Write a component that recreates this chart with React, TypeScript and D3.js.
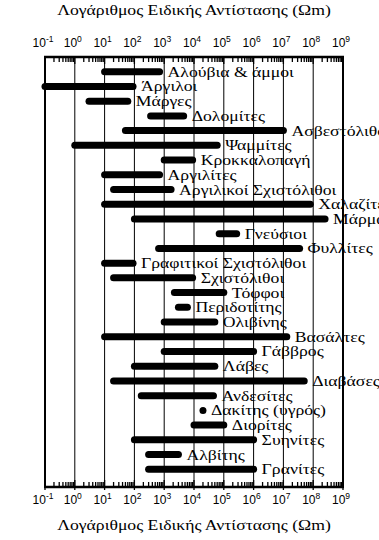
import React from "react";
import * as d3 from "d3";

const rocks = ["Αλούβια & άμμοι","Άργιλοι","Μάργες","Δολομίτες","Ασβεστόλιθοι","Ψαμμίτες","Κροκκαλοπαγή","Αργιλίτες","Αργιλικοί Σχιστόλιθοι","Χαλαζίτες","Μάρμαρα","Γνεύσιοι","Φυλλίτες","Γραφιτικοί Σχιστόλιθοι","Σχιστόλιθοι","Τόφφοι","Περιδοτίτης","Ολιβίνης","Βασάλτες","Γάββρος","Λάβες","Διαβάσες","Ανδεσίτες","Δακίτης (υγρός)","Διορίτες","Συηνίτες","Αλβίτης","Γρανίτες"];
const lowValues = [10, 0.1, 3, 350, 50, 1, 1000, 10, 20, 10, 100, 7e4, 650, 10, 20, 2200, 3000, 1000, 10, 1000, 100, 20, 170, 2e4, 1e4, 100, 300, 300];
const highValues = [700, 90, 60, 4500, 1e7, 6e4, 9e3, 700, 1700, 8e7, 2.5e8, 2.7e5, 3.5e7, 90, 9e3, 1e5, 6e3, 5e4, 1.3e7, 1e6, 5e4, 5e7, 4.5e4, 2e4, 1e5, 1e6, 3e3, 1e6];
const exponents = [-1, 0, 1, 2, 3, 4, 5, 6, 7, 8, 9];
const axisTitle = "Λογάριθμος Ειδικής Αντίστασης (Ωm)";

const W = 379, H = 540;
const L = 45, R = 343, T = 57, B = 487;
const SERIF = "'Liberation Serif', 'DejaVu Serif', serif";
const SANS = "'Liberation Sans', Arial, sans-serif";
const SX = 1.22;
const FS = 14.5;

export default function App() {
  const x = d3.scaleLog().domain([0.1, 1e9]).range([L, R]);
  const y = d3.scalePoint<string>().domain(rocks).range([71.7, 469.3]);

  const ticks: { v: number; major: boolean }[] = [];
  for (let e = -1; e <= 8; e++) {
    for (let k = 1; k <= 9; k++) ticks.push({ v: k * Math.pow(10, e), major: k === 1 });
  }
  ticks.push({ v: 1e9, major: true });

  const tickLabel = (e: number, ty: number) => (
    <text key={`${e}-${ty}`} x={x(Math.pow(10, e)) - 2} y={ty} fontFamily={SANS} fontSize={12} textAnchor="middle" fill="#000">
      10<tspan fontSize={8.5} dy={-5}>{e}</tspan>
    </text>
  );

  return (
    <svg width={W} height={H} style={{ position: "absolute", left: 0, top: 0, background: "#fff" }}>
      <rect x={0} y={0} width={W} height={H} fill="#fff" />
      {exponents.map((e) => (
        <line key={e} x1={x(Math.pow(10, e))} x2={x(Math.pow(10, e))} y1={T} y2={B} stroke="#000" strokeWidth={1} />
      ))}
      {ticks.map((t, i) => (
        <g key={i}>
          <line x1={x(t.v)} x2={x(t.v)} y1={T} y2={T + (t.major ? 7 : 5)} stroke="#000" strokeWidth={1.3} />
          <line x1={x(t.v)} x2={x(t.v)} y1={B - (t.major ? 7 : 5)} y2={B + (t.major ? 3 : 0)} stroke="#000" strokeWidth={1.3} />
        </g>
      ))}
      <line x1={L - 1} x2={R + 1} y1={T} y2={T} stroke="#000" strokeWidth={2.5} />
      <line x1={L - 1} x2={R + 1} y1={B} y2={B} stroke="#000" strokeWidth={2.5} />
      <line x1={L} x2={L} y1={T} y2={B} stroke="#000" strokeWidth={2} />
      <line x1={R} x2={R} y1={T} y2={B} stroke="#000" strokeWidth={2} />
      {rocks.map((r, i) => (
        <line key={r} x1={x(lowValues[i])} x2={x(highValues[i])} y1={y(r)} y2={y(r)} stroke="#000" strokeWidth={7} strokeLinecap="round" />
      ))}
      {rocks.map((r, i) => (
        <text key={r} transform={`translate(${x(highValues[i]) + 8},${(y(r) as number) + 5}) scale(${SX},1)`} fontFamily={SERIF} fontSize={FS} fill="#000">
          {r}
        </text>
      ))}
      {exponents.map((e) => tickLabel(e, 47))}
      {exponents.map((e) => tickLabel(e, 504))}
      <text transform={`translate(${(L + R) / 2},15) scale(${SX},1)`} textAnchor="middle" fontFamily={SERIF} fontSize={FS} fill="#000">{axisTitle}</text>
      <text transform={`translate(${(L + R) / 2},530) scale(${SX},1)`} textAnchor="middle" fontFamily={SERIF} fontSize={FS} fill="#000">{axisTitle}</text>
    </svg>
  );
}
